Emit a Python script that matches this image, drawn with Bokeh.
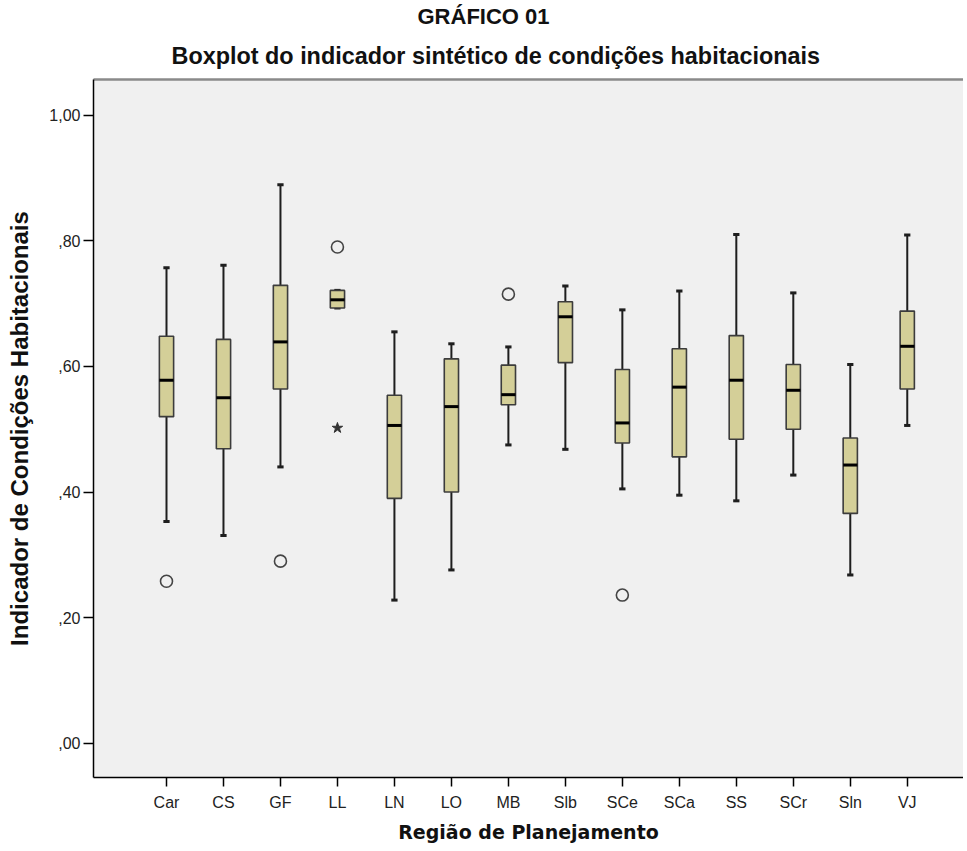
from bokeh.plotting import figure
from bokeh.models import Range1d, FixedTicker, LinearAxis, Title, ColumnDataSource
from bokeh.embed import file_html
from bokeh.resources import INLINE

categories = ["Car", "CS", "GF", "LL", "LN", "LO", "MB", "Slb", "SCe", "SCa", "SS", "SCr", "Sln", "VJ"]
lower  = [0.353, 0.331, 0.440, 0.693, 0.228, 0.276, 0.475, 0.468, 0.405, 0.395, 0.386, 0.427, 0.268, 0.506]
q1     = [0.520, 0.469, 0.564, 0.693, 0.390, 0.400, 0.539, 0.606, 0.478, 0.456, 0.484, 0.500, 0.366, 0.564]
median = [0.578, 0.550, 0.639, 0.706, 0.506, 0.536, 0.555, 0.679, 0.510, 0.567, 0.578, 0.562, 0.443, 0.632]
q3     = [0.648, 0.643, 0.729, 0.721, 0.554, 0.612, 0.602, 0.703, 0.595, 0.628, 0.649, 0.603, 0.486, 0.688]
upper  = [0.757, 0.761, 0.889, 0.721, 0.655, 0.636, 0.631, 0.728, 0.690, 0.720, 0.810, 0.717, 0.603, 0.809]

outlier_cat = ["Car", "GF", "LL", "MB", "SCe"]
outlier_val = [0.258, 0.290, 0.790, 0.715, 0.236]
extreme_cat = ["LL"]
extreme_val = [0.502]

y_ticks = [0.0, 0.2, 0.4, 0.6, 0.8, 1.0]
y_tick_labels = [",00", ",20", ",40", ",60", ",80", "1,00"]

BOX_W = 0.25
CAP_W = 0.11

xi = list(range(len(categories)))
src = ColumnDataSource(dict(
    x=xi, lower=lower, q1=q1, median=median, q3=q3, upper=upper,
    left=[i - BOX_W / 2 for i in xi], right=[i + BOX_W / 2 for i in xi],
    cl=[i - CAP_W / 2 for i in xi], cr=[i + CAP_W / 2 for i in xi],
))

p = figure(width=963, height=845, output_backend="svg", toolbar_location=None,
           x_range=Range1d(-1.281, 13.987), y_range=Range1d(-0.0544, 1.0567),
           min_border_left=93, min_border_right=0, min_border_top=77, min_border_bottom=68,
           title=None)
p.background_fill_color = "#f0f0f0"
p.border_fill_color = "white"
p.outline_line_color = None
p.grid.visible = False

# whiskers
p.segment(x0="x", y0="q3", x1="x", y1="upper", source=src, line_color="#1e1e1e", line_width=2)
p.segment(x0="x", y0="q1", x1="x", y1="lower", source=src, line_color="#1e1e1e", line_width=2)
p.segment(x0="cl", y0="upper", x1="cr", y1="upper", source=src, line_color="#1e1e1e", line_width=3)
p.segment(x0="cl", y0="lower", x1="cr", y1="lower", source=src, line_color="#1e1e1e", line_width=3)
# boxes
p.quad(left="left", right="right", bottom="q1", top="q3", source=src,
       fill_color="#d4cf98", line_color="#3c3c3c", line_width=1.6)
p.segment(x0="left", y0="median", x1="right", y1="median", source=src, line_color="black", line_width=3)

# outliers
ox = [categories.index(c) for c in outlier_cat]
p.scatter(ox, outlier_val, marker="circle", size=12, fill_color=None, line_color="#444444", line_width=1.6)
ex = [categories.index(c) for c in extreme_cat]
p.scatter(ex, extreme_val, marker="star", size=11, fill_color="#333333", line_color="#333333", line_width=1)

# axes
xa = p.xaxis[0]
xa.ticker = FixedTicker(ticks=xi)
xa.major_label_overrides = {i: c for i, c in zip(xi, categories)}
xa.minor_tick_line_color = None
xa.major_tick_out = 9
xa.major_tick_in = 0
xa.major_tick_line_width = 1.5
xa.axis_line_width = 1.5
xa.axis_line_color = "black"
xa.major_label_text_font = "Liberation Sans"
xa.major_label_text_font_size = "16px"
xa.major_label_text_color = "#222222"
xa.major_label_standoff = 7
xa.axis_label = "Região de Planejamento"
xa.axis_label_text_font = "DejaVu Sans"
xa.axis_label_text_font_style = "bold"
xa.axis_label_text_font_size = "19px"
xa.axis_label_text_color = "#111111"
xa.axis_label_standoff = 7

ya = p.yaxis[0]
ya.ticker = FixedTicker(ticks=y_ticks)
ya.major_label_overrides = {t: l for t, l in zip(y_ticks, y_tick_labels)}
ya.minor_tick_line_color = None
ya.major_tick_out = 10
ya.major_tick_in = 0
ya.major_tick_line_width = 1.5
ya.axis_line_width = 1.5
ya.axis_line_color = "black"
ya.major_label_text_font = "Liberation Sans"
ya.major_label_text_font_size = "16px"
ya.major_label_text_color = "#222222"
ya.major_label_standoff = 3
ya.axis_label = "Indicador de Condições Habitacionais"
ya.axis_label_text_font = "Liberation Sans"
ya.axis_label_text_font_style = "bold"
ya.axis_label_text_font_size = "24px"
ya.axis_label_text_color = "#111111"
ya.axis_label_standoff = 13

top_axis = LinearAxis(ticker=FixedTicker(ticks=[]), axis_line_color="#8a8a8a", axis_line_width=2.5,
                      major_tick_line_color=None, minor_tick_line_color=None,
                      major_label_text_font_size="0px")
p.add_layout(top_axis, "above")

p.add_layout(Title(text="Boxplot do indicador sintético de condições habitacionais", align="left", offset=78,
                   text_font="Liberation Sans", text_font_style="bold", text_font_size="23.4px",
                   text_color="#111111", standoff=22), "above")
p.add_layout(Title(text="GRÁFICO 01", align="left", offset=324,
                   text_font="Liberation Sans", text_font_style="bold", text_font_size="22px",
                   text_color="#111111", standoff=2), "above")

open("out.html", "w").write(file_html(p, INLINE))
